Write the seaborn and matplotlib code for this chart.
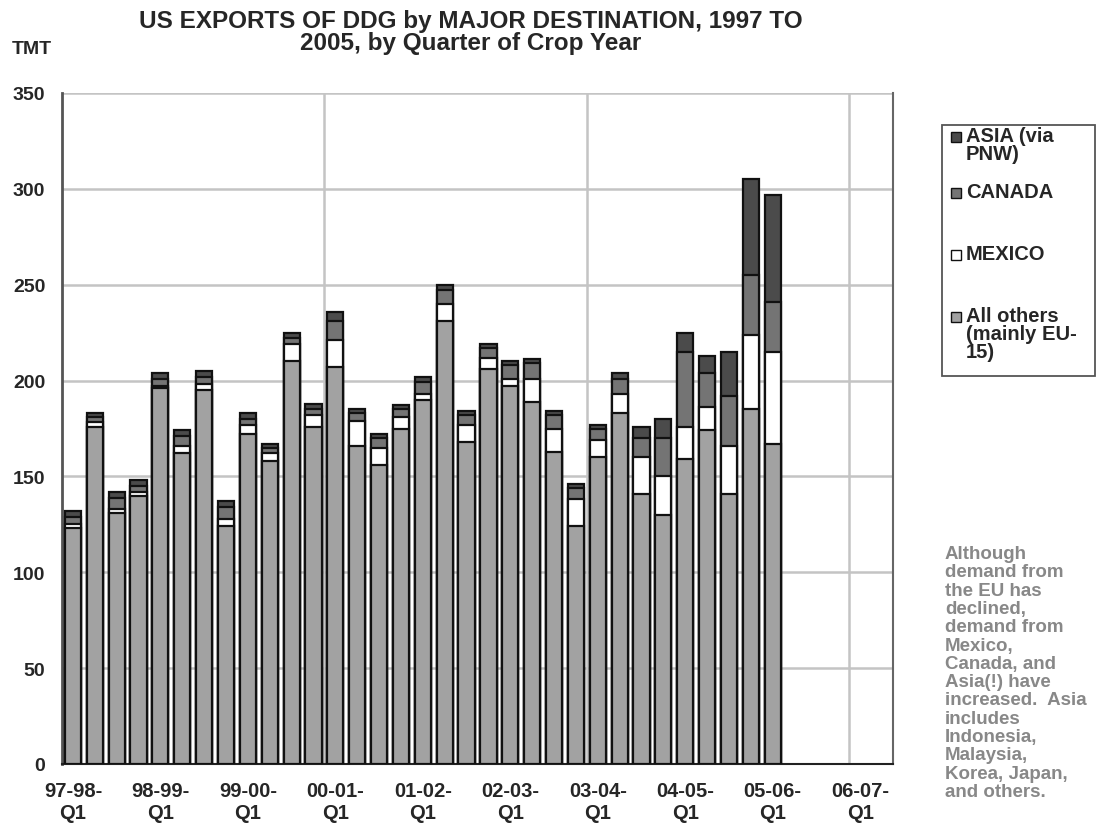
import matplotlib
matplotlib.use("Agg")
import matplotlib.pyplot as plt
import seaborn as sns
import pandas as pd
import numpy as np
from matplotlib.patches import Rectangle

sns.set_theme(style="white")
plt.rcParams['font.family'] = ['Liberation Sans', 'DejaVu Sans']

years = ["97-98", "98-99", "99-00", "00-01", "01-02", "02-03", "03-04", "04-05", "05-06", "06-07"]
quarters = ["Q1", "Q2", "Q3", "Q4"]
categories = [f"{y}-{q}" for y in years for q in quarters][:38]

others = [123, 176, 131, 140, 196, 162, 195, 124, 172, 158, 210, 176, 207, 166, 156, 175, 190,
          231, 168, 206, 197, 189, 163, 124, 160, 183, 141, 130, 159, 174, 141, 185, 167]
mexico = [2, 2.5, 2, 2, 1, 4, 3, 4, 5, 4, 9, 6, 14, 13, 9, 6, 3,
          9, 9, 6, 4, 12, 12, 14, 9, 10, 19, 20, 17, 12, 25, 39, 48]
canada = [4, 2.5, 6, 3, 4, 5, 4, 6, 3, 3, 3, 3, 10, 4, 5, 4, 6,
          7, 5, 5, 7, 8, 7, 6, 6, 8, 10, 20, 39, 18, 26, 31, 26]
asia = [3, 2, 3, 3, 3, 3, 3, 3, 3, 2, 3, 3, 5, 2, 2, 2, 3,
        3, 2, 2, 2, 2, 2, 2, 2, 3, 6, 10, 10, 9, 23, 50, 56]

series_keys = ["asia", "canada", "mexico", "others"]
series_names = ["ASIA (via\nPNW)", "CANADA", "MEXICO", "All others\n(mainly EU-\n15)"]
colors = {"asia": "#4b4b4b", "canada": "#747474", "mexico": "#ffffff", "others": "#a2a2a2"}

n = len(others)
df = pd.DataFrame({
    "cat": categories[:n],
    "others": others, "mexico": mexico, "canada": canada, "asia": asia,
})
df["l_others"] = df["others"]
df["l_mexico"] = df["l_others"] + df["mexico"]
df["l_canada"] = df["l_mexico"] + df["canada"]
df["l_asia"] = df["l_canada"] + df["asia"]

W, H = 1101, 828
fig = plt.figure(figsize=(W / 100, H / 100), dpi=100)
ax = fig.add_axes([62 / W, 1 - 765 / H, (893 - 62) / W, (765 - 94) / H])

for key in series_keys:
    sns.barplot(data=df, x="cat", y="l_" + key, order=categories, color=colors[key],
                saturation=1, width=0.74, edgecolor="#111111", linewidth=1.6, ax=ax, zorder=3)

ax.set_ylim(0, 350)
ax.set_xlim(-0.5, 37.5)
ax.set_yticks(np.arange(0, 351, 50))
ax.set_yticklabels([str(v) for v in range(0, 351, 50)], fontsize=14, fontweight="bold")
ax.yaxis.grid(True, color="#c4c4c4", linewidth=1.8, zorder=0)
for xv in [11.5, 23.5, 35.5]:
    ax.axvline(xv, color="#c4c4c4", linewidth=1.8, zorder=0)
ax.set_axisbelow(True)

tick_pos = list(range(0, 38, 4))
ax.set_xticks(tick_pos)
ax.set_xticklabels([f"{y}-\nQ1" for y in years], fontsize=14.5, fontweight="bold", linespacing=1.2)
ax.tick_params(axis="y", length=0, pad=12)
ax.tick_params(axis="x", length=0, pad=12)
ax.set_xlabel("")
ax.set_ylabel("")

ax.spines["top"].set_visible(False)
ax.spines["left"].set_color("#555555")
ax.spines["left"].set_linewidth(2)
ax.spines["right"].set_color("#666666")
ax.spines["right"].set_linewidth(1.5)
ax.spines["bottom"].set_color("#222222")
ax.spines["bottom"].set_linewidth(1.5)

fig.text(471 / W, 1 - 10 / H, "US EXPORTS OF DDG by MAJOR DESTINATION, 1997 TO\n2005, by Quarter of Crop Year",
         ha="center", va="top", fontsize=17.5, fontweight="bold", linespacing=0.95)
fig.text(12 / W, 1 - 50 / H, "TMT", ha="left", va="center", fontsize=14, fontweight="bold")

# legend box (Excel style: entries at even slots, handle at first line)
fig.patches.append(Rectangle((942 / W, 1 - 377 / H), (1095 - 942) / W, (377 - 126) / H,
                             transform=fig.transFigure, facecolor="white",
                             edgecolor="#555555", linewidth=1.3, zorder=1))
first_line_y = [138, 194, 256, 318]
for key, name, yc in zip(series_keys, series_names, first_line_y):
    fig.patches.append(Rectangle((951 / W, 1 - (yc + 5) / H), 10 / W, 10 / H,
                                 transform=fig.transFigure, facecolor=colors[key],
                                 edgecolor="#111111", linewidth=1, zorder=2))
    fig.text(966 / W, 1 - (yc - 11) / H, name, ha="left", va="top", fontsize=14.5,
             fontweight="bold", linespacing=0.95, zorder=3)

note = ("Although\ndemand from\nthe EU has\ndeclined,\ndemand from\nMexico,\nCanada, and\n"
        "Asia(!) have\nincreased.  Asia\nincludes\nIndonesia,\nMalaysia,\nKorea, Japan,\nand others.")
fig.text(945 / W, 1 - 546 / H, note, ha="left", va="top", fontsize=13.5, fontweight="bold",
         color="#888888", linespacing=1.1)

fig.savefig("out.png", dpi=100)
